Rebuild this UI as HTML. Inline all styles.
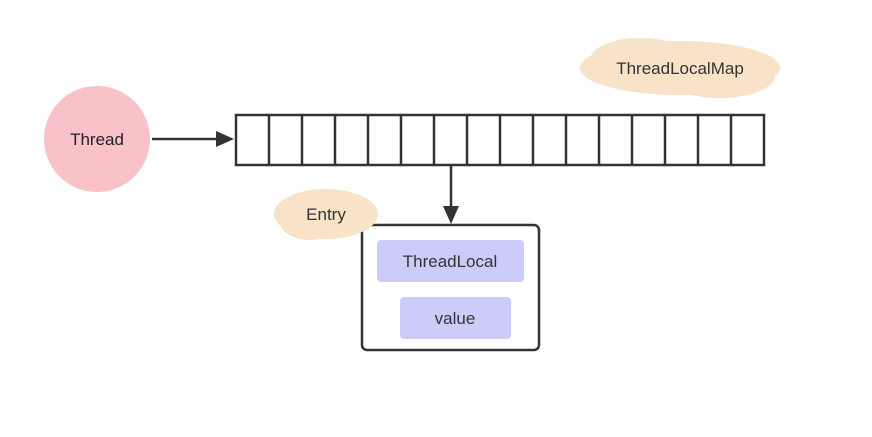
<!DOCTYPE html>
<html><head><style>body{margin:0;background:#fff}</style></head><body>
<svg width="872" height="432" xmlns="http://www.w3.org/2000/svg" font-family="Liberation Sans, sans-serif">
<rect width="872" height="432" fill="#fff"/>
<g fill="#f8e2c8">
<ellipse cx="680" cy="68" rx="100" ry="27"/>
<ellipse cx="640" cy="60" rx="50" ry="22"/>
<ellipse cx="720" cy="76" rx="55" ry="22"/>
</g>
<text x="680" y="74" font-size="17" text-anchor="middle" fill="#333">ThreadLocalMap</text>
<circle cx="97" cy="139" r="53" fill="#f9c1c8"/>
<text x="97" y="145" font-size="17" text-anchor="middle" fill="#222">Thread</text>
<line x1="152" y1="139" x2="220" y2="139" stroke="#333" stroke-width="2.5"/>
<polygon points="234,139 216,131 216,147" fill="#333"/>
<rect x="236" y="115" width="528" height="50" fill="#fff" stroke="#333" stroke-width="2.5"/>
<g stroke="#333" stroke-width="2.5">
<line x1="269" y1="115" x2="269" y2="165"/><line x1="302" y1="115" x2="302" y2="165"/>
<line x1="335" y1="115" x2="335" y2="165"/><line x1="368" y1="115" x2="368" y2="165"/>
<line x1="401" y1="115" x2="401" y2="165"/><line x1="434" y1="115" x2="434" y2="165"/>
<line x1="467" y1="115" x2="467" y2="165"/><line x1="500" y1="115" x2="500" y2="165"/>
<line x1="533" y1="115" x2="533" y2="165"/><line x1="566" y1="115" x2="566" y2="165"/>
<line x1="599" y1="115" x2="599" y2="165"/><line x1="632" y1="115" x2="632" y2="165"/>
<line x1="665" y1="115" x2="665" y2="165"/><line x1="698" y1="115" x2="698" y2="165"/>
<line x1="731" y1="115" x2="731" y2="165"/>
<line x1="451" y1="165" x2="451" y2="210"/>
</g>
<polygon points="451,224 443,206 459,206" fill="#333"/>
<rect x="362" y="225" width="177" height="125" rx="5" fill="#fff" stroke="#333" stroke-width="2.5"/>
<g fill="#f8e2c8">
<ellipse cx="326" cy="214" rx="52" ry="25"/>
<ellipse cx="310" cy="222" rx="30" ry="18"/>
</g>
<text x="326" y="220" font-size="17" text-anchor="middle" fill="#333">Entry</text>
<rect x="377" y="240" width="147" height="42" rx="4" fill="#ccccfa"/>
<text x="450" y="267" font-size="17" text-anchor="middle" fill="#333">ThreadLocal</text>
<rect x="400" y="297" width="111" height="42" rx="4" fill="#ccccfa"/>
<text x="455" y="324" font-size="17" text-anchor="middle" fill="#333">value</text>
</svg>
</body></html>
